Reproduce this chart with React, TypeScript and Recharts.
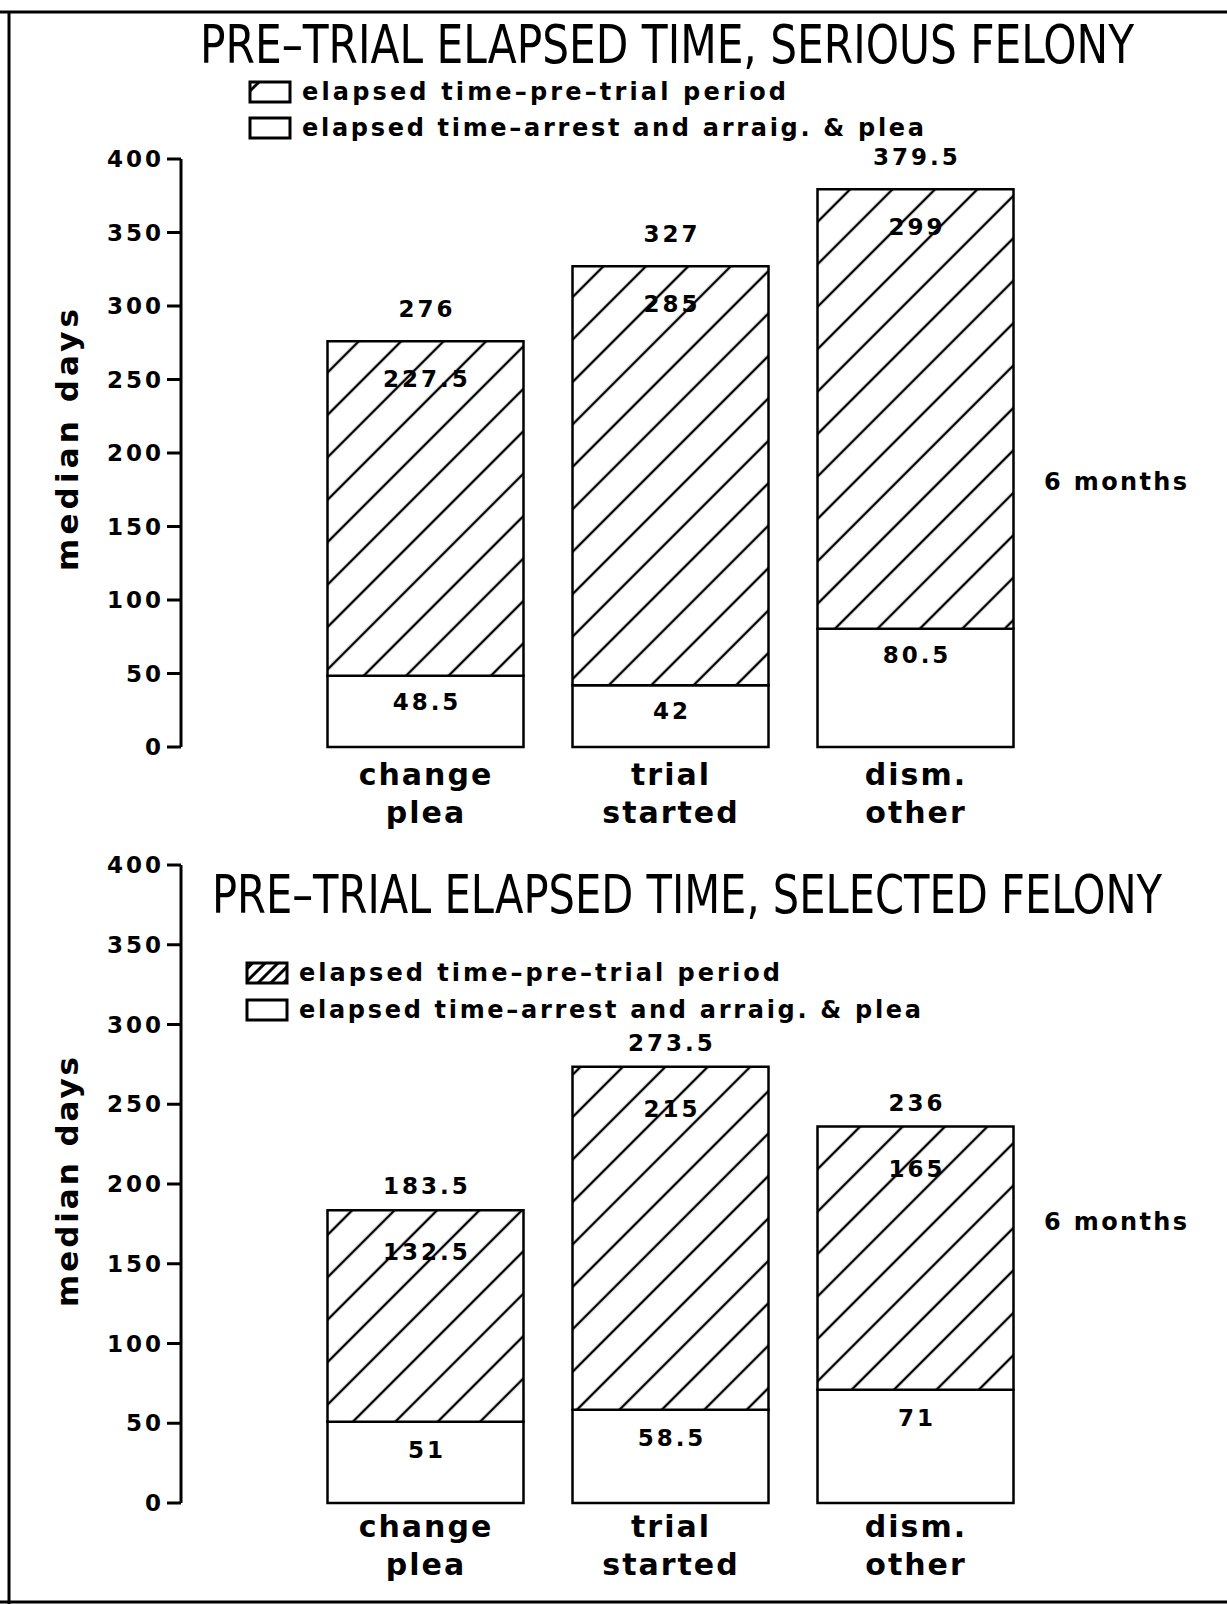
import React from 'react';
import { BarChart, Bar, XAxis, YAxis, LabelList } from 'recharts';

const categoryLine1 = ['change', 'trial', 'dism.'];
const categoryLine2 = ['plea', 'started', 'other'];
const seriousArrest = [48.5, 42, 80.5];
const seriousPretrial = [227.5, 285, 299];
const seriousTotal = [276, 327, 379.5];
const selectedArrest = [51, 58.5, 71];
const selectedPretrial = [132.5, 215, 165];
const selectedTotal = [183.5, 273.5, 236];
const yTicks = [0, 50, 100, 150, 200, 250, 300, 350, 400];
const legendLabels = ['elapsed time–pre–trial period', 'elapsed time–arrest and arraig. & plea'];
const titles = ['PRE–TRIAL ELAPSED TIME, SERIOUS FELONY', 'PRE–TRIAL ELAPSED TIME, SELECTED FELONY'];
const sideNote = '6 months';
const yAxisTitle = 'median days';

const seriousData = categoryLine1.map((name, i) => ({
  name,
  arrest: seriousArrest[i],
  pretrial: seriousPretrial[i],
  total: seriousTotal[i],
}));
const selectedData = categoryLine1.map((name, i) => ({
  name,
  arrest: selectedArrest[i],
  pretrial: selectedPretrial[i],
  total: selectedTotal[i],
}));

const FONT = '"DejaVu Sans", Verdana, sans-serif';
const NARROW = '"Liberation Sans Narrow", "DejaVu Sans Condensed", "Liberation Sans", sans-serif';

const valueLabel = (dy: number) => (props: any) => {
  const { x, y, width, value } = props;
  if (value == null) return null;
  return (
    <text
      x={Number(x) + Number(width) / 2 + 1.5}
      y={Number(y) + dy}
      textAnchor="middle"
      fontFamily={FONT}
      fontWeight="bold"
      fontSize={23}
      letterSpacing={3}
      fill="#000"
    >
      {value}
    </text>
  );
};

const catTick = (d1: number, d2: number) => (props: any) => {
  const { x, y, index } = props;
  return (
    <g>
      <text x={Number(x) + 1} y={Number(y) + d1} textAnchor="middle" fontFamily={FONT} fontWeight="bold" fontSize={30} letterSpacing={2} fill="#000">
        {categoryLine1[index]}
      </text>
      <text x={Number(x) + 1} y={Number(y) + d2} textAnchor="middle" fontFamily={FONT} fontWeight="bold" fontSize={30} letterSpacing={2} fill="#000">
        {categoryLine2[index]}
      </text>
    </g>
  );
};

type PanelProps = {
  top: number;
  height: number;
  plotTop: number;
  xAxisHeight: number;
  data: any[];
  hatchId: string;
  dyTotal: number;
  dyInner: number;
  dyLower: number;
  cat1: number;
  cat2: number;
};

function Panel(p: PanelProps) {
  return (
    <div style={{ position: 'absolute', left: 0, top: p.top, width: 1227, height: p.height }}>
      <BarChart
        width={1227}
        height={p.height}
        data={p.data}
        margin={{ top: p.plotTop, right: 127, bottom: 0, left: 0 }}
        barSize={196}
      >
        <defs>
          <pattern id={p.hatchId} patternUnits="userSpaceOnUse" width={30} height={30} patternTransform="rotate(45)">
            <rect x={0} y={0} width={30} height={30} fill="#fff" />
            <line x1={15} y1={0} x2={15} y2={30} stroke="#000" strokeWidth={2.4} />
          </pattern>
        </defs>
        <XAxis
          dataKey="name"
          axisLine={false}
          tickLine={false}
          tickSize={0}
          tickMargin={0}
          height={p.xAxisHeight}
          padding={{ left: 121.5, right: 62.5 }}
          interval={0}
          tick={catTick(p.cat1, p.cat2)}
        />
        <YAxis
          domain={[0, 400]}
          ticks={yTicks}
          width={181}
          tickSize={14}
          tickMargin={3}
          interval={0}
          axisLine={{ stroke: '#000', strokeWidth: 3 }}
          tickLine={{ stroke: '#000', strokeWidth: 3 }}
          tick={{ fill: '#000', fontSize: 23, fontWeight: 'bold', fontFamily: FONT, letterSpacing: 3 }}
        />
        <Bar dataKey="arrest" stackId="s" fill="#fff" stroke="#000" strokeWidth={2.5} isAnimationActive={false}>
          <LabelList dataKey="arrest" content={valueLabel(p.dyLower)} />
        </Bar>
        <Bar dataKey="pretrial" stackId="s" fill={`url(#${p.hatchId})`} stroke="#000" strokeWidth={2.5} isAnimationActive={false}>
          <LabelList dataKey="pretrial" content={valueLabel(p.dyInner)} />
          <LabelList dataKey="total" content={valueLabel(p.dyTotal)} />
        </Bar>
      </BarChart>
    </div>
  );
}

function Legend({ y1, y2, textX, boxX, w1, w2, hatched }: { y1: number; y2: number; textX: number; boxX: number; w1: number; w2: number; hatched: boolean }) {
  return (
    <g>
      <rect x={boxX} y={y1 - 10} width={40} height={20} fill={hatched ? 'url(#legendHatch)' : '#fff'} stroke="#000" strokeWidth={3} />
      {!hatched && <line x1={boxX} y1={y1 - 1} x2={boxX + 9} y2={y1 - 10} stroke="#000" strokeWidth={3} />}
      <rect x={boxX} y={y2 - 10} width={40} height={20} fill="#fff" stroke="#000" strokeWidth={3} />
      <text x={textX} y={y1 + 8} fontFamily={FONT} fontWeight="bold" fontSize={24} textLength={w1} lengthAdjust="spacing" fill="#000">
        {legendLabels[0]}
      </text>
      <text x={textX} y={y2 + 8} fontFamily={FONT} fontWeight="bold" fontSize={24} textLength={w2} lengthAdjust="spacing" fill="#000">
        {legendLabels[1]}
      </text>
    </g>
  );
}

function Title({ x, y, w, text }: { x: number; y: number; w: number; text: string }) {
  return (
    <g transform={`translate(${x}, ${y}) scale(1, 1.14)`}>
      <text x={0} y={0} fontFamily={NARROW} fontSize={47} textLength={w} lengthAdjust="spacingAndGlyphs" fill="#000">
        {text}
      </text>
    </g>
  );
}

export default function App() {
  return (
    <div style={{ position: 'absolute', left: 0, top: 0, width: 1227, height: 1604, background: '#fff', overflow: 'hidden' }}>
      <Panel
        top={0}
        height={880}
        plotTop={159}
        xAxisHeight={133}
        data={seriousData}
        hatchId="hatchTop"
        dyTotal={-24}
        dyInner={46}
        dyLower={34}
        cat1={38}
        cat2={76}
      />
      <Panel
        top={820}
        height={784}
        plotTop={45}
        xAxisHeight={101}
        data={selectedData}
        hatchId="hatchBottom"
        dyTotal={-16}
        dyInner={50}
        dyLower={36}
        cat1={34}
        cat2={72}
      />
      <svg width={1227} height={1604} style={{ position: 'absolute', left: 0, top: 0, pointerEvents: 'none' }}>
        <defs>
          <pattern id="legendHatch" patternUnits="userSpaceOnUse" width={9} height={9} patternTransform="rotate(45)">
            <rect x={0} y={0} width={9} height={9} fill="#fff" />
            <line x1={4.5} y1={0} x2={4.5} y2={9} stroke="#000" strokeWidth={3} />
          </pattern>
        </defs>
        <line x1={0} y1={12} x2={1227} y2={12} stroke="#000" strokeWidth={3} />
        <line x1={9} y1={12} x2={9} y2={1604} stroke="#000" strokeWidth={3} />
        <line x1={0} y1={1602} x2={1227} y2={1602} stroke="#000" strokeWidth={3} />

        <Title x={200} y={63} w={934} text={titles[0]} />
        <Legend y1={92} y2={128} boxX={250} textX={302} w1={484} w2={622} hatched={false} />
        <text x={1044} y={490} fontFamily={FONT} fontWeight="bold" fontSize={24} textLength={143} lengthAdjust="spacing" fill="#000">
          {sideNote}
        </text>
        <text
          x={67}
          y={440}
          transform="rotate(-90, 67, 440)"
          textAnchor="middle"
          dominantBaseline="central"
          fontFamily={FONT}
          fontWeight="bold"
          fontSize={31}
          textLength={262}
          lengthAdjust="spacing"
          fill="#000"
        >
          {yAxisTitle}
        </text>

        <Title x={212} y={913} w={950} text={titles[1]} />
        <Legend y1={973} y2={1010} boxX={247} textX={299} w1={481} w2={622} hatched={true} />
        <text x={1044} y={1230} fontFamily={FONT} fontWeight="bold" fontSize={24} textLength={143} lengthAdjust="spacing" fill="#000">
          {sideNote}
        </text>
        <text
          x={67}
          y={1182}
          transform="rotate(-90, 67, 1182)"
          textAnchor="middle"
          dominantBaseline="central"
          fontFamily={FONT}
          fontWeight="bold"
          fontSize={31}
          textLength={250}
          lengthAdjust="spacing"
          fill="#000"
        >
          {yAxisTitle}
        </text>
      </svg>
    </div>
  );
}
